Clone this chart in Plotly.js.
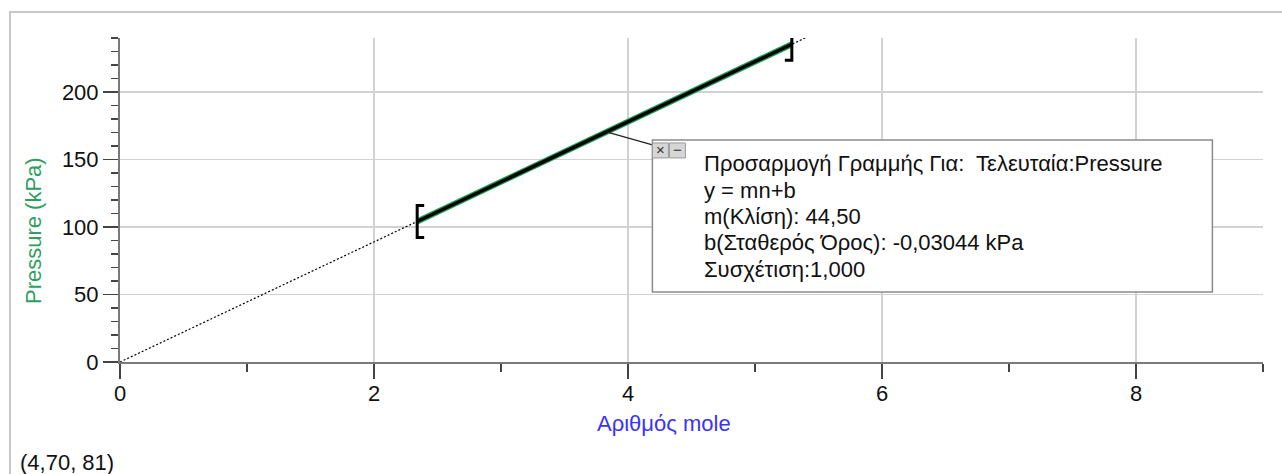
<!DOCTYPE html>
<html><head><meta charset="utf-8">
<script src="https://cdn.plot.ly/plotly-3.0.1.min.js"></script>
<style>
html,body{margin:0;padding:0;background:#fff;}
#wrap{position:relative;width:1282px;height:474px;overflow:hidden;}
#chart{width:1282px;height:474px;}
#frame{position:absolute;left:9px;top:11px;width:1400px;height:600px;border-left:2px solid #c8c8c8;border-top:2px solid #c8c8c8;pointer-events:none;}
</style>
</head><body>
<div id="wrap"><div id="chart"></div><div id="frame"></div></div>
<script>
const moles    = [2.34, 2.60, 2.87, 3.13, 3.40, 3.66, 3.93, 4.19, 4.46, 4.72, 4.99, 5.29];
const pressure = [104.1, 115.7, 127.7, 139.3, 151.3, 162.9, 174.9, 186.4, 198.5, 210.0, 222.0, 235.4];
// linear fit shown in the box
const slope = 44.50;
const intercept = -0.03044;
const fitExtendTo = 5.43;      // dotted extension of the fit
const leaderAtX = 3.83;        // where the box leader line touches the fit
const boxLines = [
  "Προσαρμογή Γραμμής Για:  Τελευταία:Pressure",
  "y = mn+b",
  "m(Κλίση): 44,50",
  "b(Σταθερός Όρος): -0,03044 kPa",
  "Συσχέτιση:1,000"
];
const xTitle = "Αριθμός mole";
const yTitle = "Pressure (kPa)";
const cornerText = "(4,70, 81)";
const xTicks = [0, 2, 4, 6, 8];
const yTicks = [0, 50, 100, 150, 200];

const fitY = x => slope * x + intercept;
const n0 = moles[0], n1 = moles[moles.length - 1];

const traces = [
  { x: [0, fitExtendTo], y: [fitY(0), fitY(fitExtendTo)], mode: 'lines',
    line: { color: '#000', width: 1.2, dash: '2px,2px' }, hoverinfo: 'skip' },
  { x: moles, y: pressure, mode: 'lines', line: { color: '#1e9e55', width: 6 }, hoverinfo: 'skip' },
  { x: [n0, n1], y: [fitY(n0), fitY(n1)], mode: 'lines', line: { color: '#000', width: 3.5 }, hoverinfo: 'skip' }
];

const ax = {
  showline: true, linecolor: '#7a7a7a', linewidth: 2,
  ticks: 'outside', ticklen: 15, tickwidth: 1.5, tickcolor: '#444',
  showgrid: true, gridcolor: '#d2d2d2', gridwidth: 1.3,
  zeroline: false, tickfont: { size: 22, color: '#111' }, fixedrange: true
};

const lx = leaderAtX, ly = fitY(leaderAtX);
const pxShape = (o) => Object.assign({ xref: 'x', yref: 'y', xsizemode: 'pixel', ysizemode: 'pixel', xanchor: lx, yanchor: ly }, o);

const shapes = [
  // brackets at the ends of the fitted range
  { type: 'path', xref: 'x', yref: 'y', xsizemode: 'pixel', ysizemode: 'pixel', xanchor: n0, yanchor: fitY(n0),
    path: 'M 7,16 L 0,16 L 0,-16 L 7,-16', line: { color: '#000', width: 3 } },
  { type: 'path', xref: 'x', yref: 'y', xsizemode: 'pixel', ysizemode: 'pixel', xanchor: n1, yanchor: fitY(n1),
    path: 'M -7,16 L 0,16 L 0,-16 L -7,-16', line: { color: '#000', width: 3 } },
  // leader line
  pxShape({ type: 'line', x0: 0, y0: 0, x1: 46, y1: -13, line: { color: '#222', width: 1.2 } }),
  // box
  pxShape({ type: 'rect', x0: 46, x1: 606, y0: -8, y1: -160, fillcolor: '#fff', line: { color: '#8a8a8a', width: 1.5 }, layer: 'above' }),
  // close / minimise buttons
  pxShape({ type: 'rect', x0: 46, x1: 62, y0: -11, y1: -26, fillcolor: '#d6d6d6', line: { color: '#9a9a9a', width: 1 }, layer: 'above' }),
  pxShape({ type: 'rect', x0: 63, x1: 79, y0: -11, y1: -26, fillcolor: '#d6d6d6', line: { color: '#9a9a9a', width: 1 }, layer: 'above' })
];

const lineShifts = [-32, -58.5, -85, -111, -137.5];
const annotations = boxLines.map((t, i) => ({
  xref: 'x', yref: 'y', x: lx, y: ly, xanchor: 'left', yanchor: 'middle', xshift: 96, yshift: lineShifts[i],
  text: t, align: 'left', showarrow: false, font: { size: 22, color: '#111' }
})).concat([
  { xref: 'x', yref: 'y', x: lx, y: ly, xanchor: 'center', yanchor: 'middle', xshift: 54, yshift: -18,
    text: '×', showarrow: false, font: { size: 15, color: '#333' } },
  { xref: 'x', yref: 'y', x: lx, y: ly, xanchor: 'center', yanchor: 'middle', xshift: 71, yshift: -18,
    text: '−', showarrow: false, font: { size: 15, color: '#333' } },
  { xref: 'paper', yref: 'paper', x: (664 - 120) / 1143.5, y: (362 - 423) / 324, xanchor: 'center', yanchor: 'middle',
    text: xTitle, showarrow: false, font: { size: 22, color: '#3a32ff' } },
  { xref: 'paper', yref: 'paper', x: (33 - 120) / 1143.5, y: (362 - 231) / 324, xanchor: 'center', yanchor: 'middle',
    text: yTitle, textangle: -90, showarrow: false, font: { size: 22, color: '#2ea05e' } },
  { xref: 'paper', yref: 'paper', x: (18 - 120) / 1143.5, y: (362 - 462) / 324, xanchor: 'left', yanchor: 'middle',
    text: cornerText, showarrow: false, font: { size: 22, color: '#111' } }
]);

const layout = {
  width: 1282, height: 474,
  margin: { l: 120, r: 18.5, t: 38, b: 112 },
  paper_bgcolor: '#fff', plot_bgcolor: '#fff',
  font: { family: 'Liberation Sans, Arial, sans-serif', size: 22, color: '#111' },
  showlegend: false,
  xaxis: Object.assign({}, ax, { range: [0, 9], tickvals: xTicks, ticktext: xTicks.map(String), ticklabelstandoff: -4,
    minor: { dtick: 1, tick0: 0, ticks: 'outside', ticklen: 8, tickwidth: 1.5, tickcolor: '#444', showgrid: false } }),
  yaxis: Object.assign({}, ax, { range: [0, 240], tickvals: yTicks, ticktext: yTicks.map(String),
    minor: { dtick: 10, tick0: 0, ticks: 'outside', ticklen: 7, tickwidth: 1.5, tickcolor: '#444', showgrid: false } }),
  shapes: shapes,
  annotations: annotations
};

Plotly.newPlot('chart', traces, layout, { staticPlot: true, displayModeBar: false });
</script>
</body></html>
